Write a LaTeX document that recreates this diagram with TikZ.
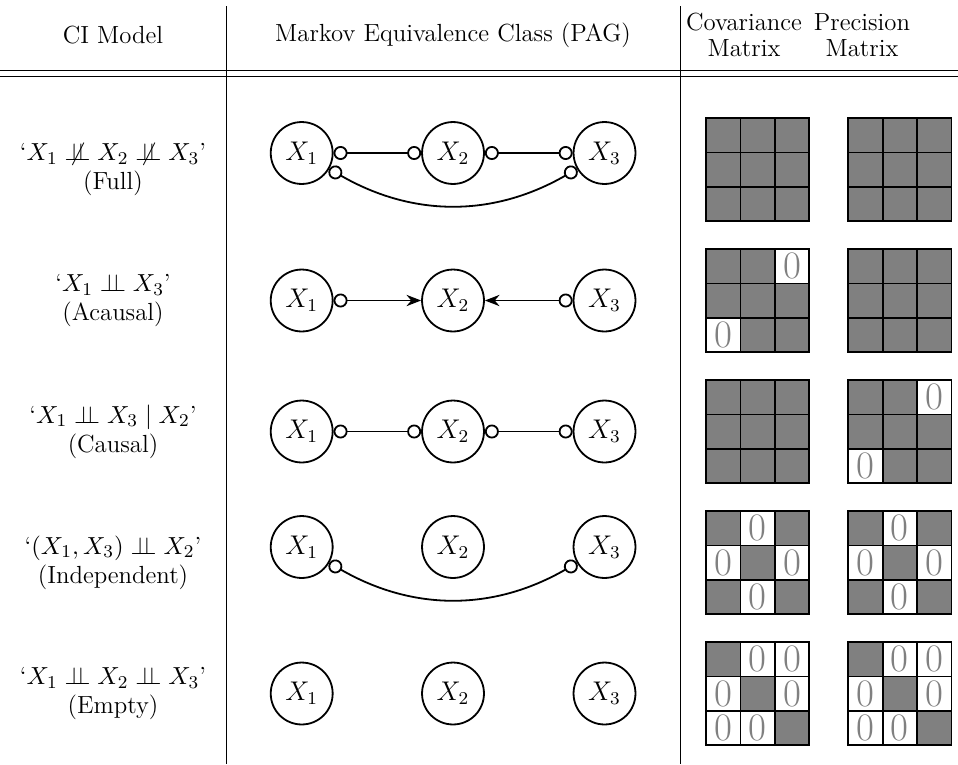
\documentclass[tikz,border=0pt]{standalone}
\usetikzlibrary{arrows.meta}
\newcommand\indep{\mathrel{\perp\!\!\!\perp}}
\newcommand\nindep{\mathrel{\mkern3mu\not\mkern-3mu\perp\!\!\!\perp}}
\tikzset{
	var/.style={circle,draw,thick,minimum size=27.5pt,inner sep=0pt,font=\fontsize{11.5}{13}\selectfont},
	oo/.style={thick,{Circle[open,length=6.2pt]}-{Circle[open,length=6.2pt]}},
	oa/.style={thick,{Circle[open,length=6.2pt]}-{Stealth[length=6.5pt,width=5pt]}},
	txt/.style={font=\fontsize{11}{13}\selectfont},
	lab/.style={txt,align=center},
	cell1/.style={draw,thick,fill=gray,minimum size=15.27pt,inner sep=0pt},
	cell0/.style={draw,thick,fill=white,text=gray,font=\LARGE,minimum size=15.27pt,inner sep=0pt},
}
\begin{document}
\begin{tikzpicture}[x=0.444pt,y=-0.444pt]
			\useasboundingbox(0,0)rectangle(958,764);
			\draw(226,6)--(226,764);
			\draw(680,6)--(680,764);
			\draw[semithick](0,70.7)--(958,70.7);
			\draw(0,76.7)--(958,76.7);
			\node[txt](h1)at(113,35){CI Model};
			\node[txt](h2)at(453,35){Markov Equivalence Class (PAG)};
			\node[txt](h3)at(744,22){Covariance};
			\node[txt](h4)at(744,48){Matrix};
			\node[txt](h5)at(862,22){Precision};
			\node[txt](h6)at(862,48){Matrix};
			\node[lab](t1)at(113,169.5){`$X_1\nindep X_2\nindep X_3$'\\(Full)};
			\node[lab](t2)at(113,300.5){`$X_1\indep X_3$'\\(Acausal)};
			\node[lab](t3)at(113,431.5){`$X_1\indep X_3\mid X_2$'\\(Causal)};
			\node[lab](t4)at(113,562.5){`$(X_1,X_3)\indep X_2$'\\(Independent)};
			\node[lab](t5)at(113,693.5){`$X_1\indep X_2\indep X_3$'\\(Empty)};
			\node[var](p1a)at(301.7,153){$X_1$};
			\node[var](p1b)at(453,153){$X_2$};
			\node[var](p1c)at(604.5,153){$X_3$};
			\draw[oo](p1a)--(p1b);
			\draw[oo](p1b)--(p1c);
			\draw[oo](p1a)to[bend right=30](p1c);
			\node[var](p2a)at(301.7,300.5){$X_1$};
			\node[var](p2b)at(453,300.5){$X_2$};
			\node[var](p2c)at(604.5,300.5){$X_3$};
			\draw[oa](p2a)--(p2b);
			\draw[oa](p2c)--(p2b);
			\node[var](p3a)at(301.7,431.5){$X_1$};
			\node[var](p3b)at(453,431.5){$X_2$};
			\node[var](p3c)at(604.5,431.5){$X_3$};
			\draw[oo](p3a)--(p3b);
			\draw[oo](p3b)--(p3c);
			\node[var](p4a)at(301.7,547){$X_1$};
			\node[var](p4b)at(453,547){$X_2$};
			\node[var](p4c)at(604.5,547){$X_3$};
			\draw[oo](p4a)to[bend right=30](p4c);
			\node[var](p5a)at(301.7,693.5){$X_1$};
			\node[var](p5b)at(453,693.5){$X_2$};
			\node[var](p5c)at(604.5,693.5){$X_3$};
			\foreach\mx/\my/\cells in{
				706/118/{1,1,1,1,1,1,1,1,1},848.3/118/{1,1,1,1,1,1,1,1,1},
				706/249/{1,1,0,1,1,1,0,1,1},848.3/249/{1,1,1,1,1,1,1,1,1},
				706/380/{1,1,1,1,1,1,1,1,1},848.3/380/{1,1,0,1,1,1,0,1,1},
				706/511/{1,0,1,0,1,0,1,0,1},848.3/511/{1,0,1,0,1,0,1,0,1},
				706/642/{1,0,0,0,1,0,0,0,1},848.3/642/{1,0,0,0,1,0,0,0,1}}{
				\foreach\v[count=\k from 0]in\cells{
					\pgfmathtruncatemacro\ci{mod(\k,3)}
					\pgfmathtruncatemacro\ri{div(\k,3)}
					\node[cell\v](m-\mx-\my-\k)at(\mx+17.2+34.4*\ci,\my+17.2+34.4*\ri){\ifnum\v=0 0\fi};
				}
			}
		\end{tikzpicture}
\end{document}
